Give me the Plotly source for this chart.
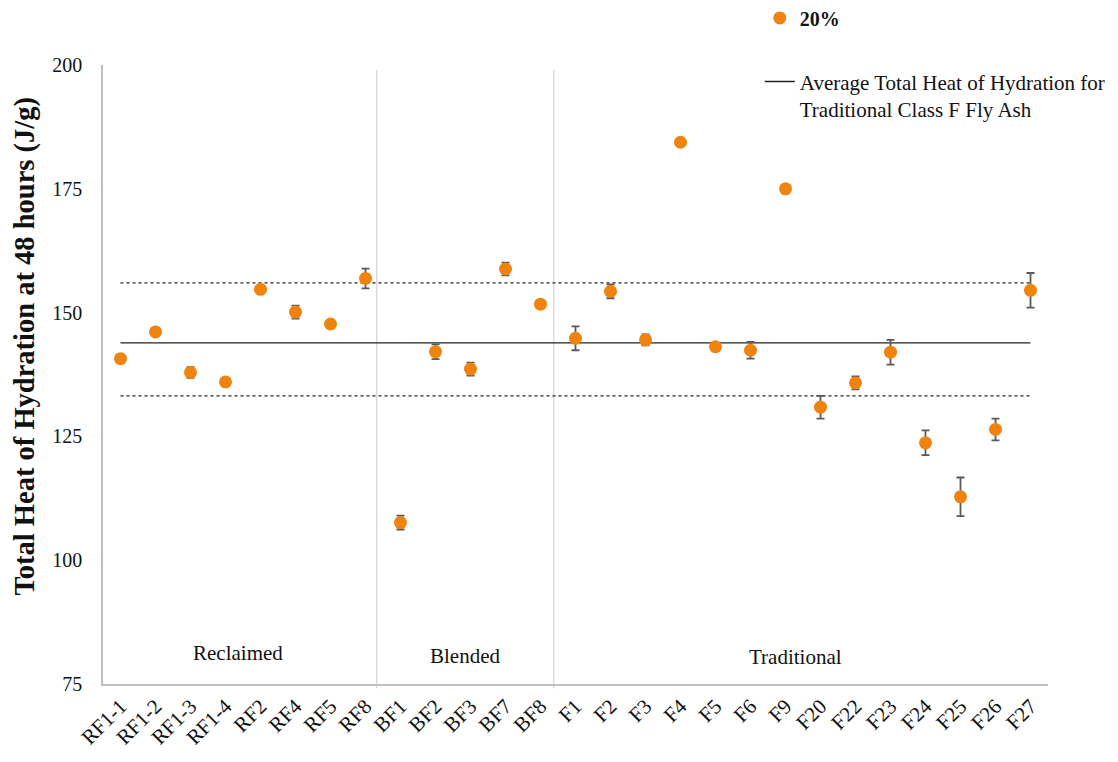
import plotly.graph_objects as go

# Fly ash samples along the x axis
samples = ["RF1-1", "RF1-2", "RF1-3", "RF1-4", "RF2", "RF4", "RF5", "RF8",
           "BF1", "BF2", "BF3", "BF7", "BF8",
           "F1", "F2", "F3", "F4", "F5", "F6", "F9", "F20", "F22", "F23",
           "F24", "F25", "F26", "F27"]

# Total heat of hydration at 48 h (J/g), 20% replacement
heat_20 = [140.7, 146.1, 137.9, 136.0, 154.7, 150.1, 147.7, 156.9,
           107.6, 142.1, 138.6, 158.8, 151.7,
           144.8, 154.3, 144.5, 184.4, 143.1, 142.4, 175.0, 130.9, 135.8,
           142.0, 123.7, 112.8, 126.4, 154.5]

# Standard deviation of the measurements (J/g)
heat_err = [0.0, 0.0, 1.1, 0.0, 0.0, 1.3, 0.0, 2.0,
            1.4, 1.5, 1.3, 1.3, 0.0,
            2.4, 1.4, 1.1, 0.0, 0.0, 1.7, 0.0, 2.3, 1.3,
            2.5, 2.5, 3.9, 2.2, 3.5]

# Reference levels for traditional Class F fly ash
avg_traditional = 143.9
band_upper = 156.0
band_lower = 133.2

# Group labels and their positions (sample index units)
groups = ["Reclaimed", "Blended", "Traditional"]
group_centers = [3.37, 9.84, 19.29]
group_label_y = [0.050, 0.045, 0.044]
group_dividers = [7.32, 12.38]

y_ticks = [75, 100, 125, 150, 175, 200]

SERIF = "Liberation Serif, Times New Roman, serif"
ORANGE = "#F0820E"

xs = list(range(len(samples)))
x_span = [xs[0], xs[-1]]

fig = go.Figure()

# Dotted band around the average
for level in (band_upper, band_lower):
    fig.add_trace(go.Scatter(
        x=x_span, y=[level, level], mode="lines",
        line=dict(color="#222222", width=1.2, dash="dot"),
        showlegend=False, hoverinfo="skip"))

fig.add_trace(go.Scatter(
    x=x_span, y=[avg_traditional, avg_traditional], mode="lines",
    line=dict(color="#222222", width=1.3),
    name="Average Total Heat of Hydration for<br>Traditional Class F Fly Ash",
    legend="legend2"))

fig.add_trace(go.Scatter(
    x=xs, y=heat_20, mode="markers",
    marker=dict(color=ORANGE, size=13, line=dict(width=0)),
    error_y=dict(type="data", array=heat_err, visible=True,
                 color="#5a5a5a", thickness=1.8, width=4),
    name="<b>20%</b>", legend="legend"))

shapes = []
for d in group_dividers:
    shapes.append(dict(type="line", xref="x", yref="paper",
                       x0=d, x1=d, y0=-0.007, y1=0.992,
                       line=dict(color="#d4d4d4", width=1.2), layer="below"))

annotations = []
for g, c, gy in zip(groups, group_centers, group_label_y):
    annotations.append(dict(text=g, x=c, xref="x", y=gy, yref="paper",
                            xanchor="center", yanchor="middle",
                            showarrow=False,
                            font=dict(family=SERIF, size=21, color="#111")))

annotations.append(dict(
    text="<b>Total Heat of Hydration at 48 hours (J/g)</b>",
    textangle=-90, x=-0.083, y=0.546, xref="paper", yref="paper",
    xanchor="center", yanchor="middle", showarrow=False,
    font=dict(family=SERIF, size=28.5, color="#111")))

fig.update_layout(
    width=1118, height=762,
    margin=dict(l=103, r=70, t=65, b=78, autoexpand=False),
    paper_bgcolor="white", plot_bgcolor="white",
    font=dict(family=SERIF, size=20, color="#111"),
    shapes=shapes, annotations=annotations,
    legend=dict(x=0.695, xanchor="left", y=1.076, yanchor="middle",
                font=dict(family=SERIF, size=20, color="#111"),
                bgcolor="rgba(0,0,0,0)"),
    legend2=dict(x=0.695, xanchor="left", y=0.951, yanchor="middle",
                 valign="top",
                 font=dict(family=SERIF, size=21, color="#111"),
                 bgcolor="rgba(0,0,0,0)"),
)

fig.update_xaxes(
    range=[-0.5, len(samples) - 0.5], tickmode="array",
    tickvals=xs, ticktext=samples, tickangle=-45,
    showgrid=False, zeroline=False, showline=True,
    linecolor="#c0c0c0", linewidth=1.5, ticks="",
    tickfont=dict(family=SERIF, size=21, color="#111"))

fig.update_yaxes(
    range=[75, 200], tickmode="array", tickvals=y_ticks,
    showgrid=False, zeroline=False, showline=True,
    linecolor="#c0c0c0", linewidth=1.5, ticks="",
    ticklabelstandoff=15,
    tickfont=dict(family=SERIF, size=20, color="#111"))

fig.write_html("out.html")
